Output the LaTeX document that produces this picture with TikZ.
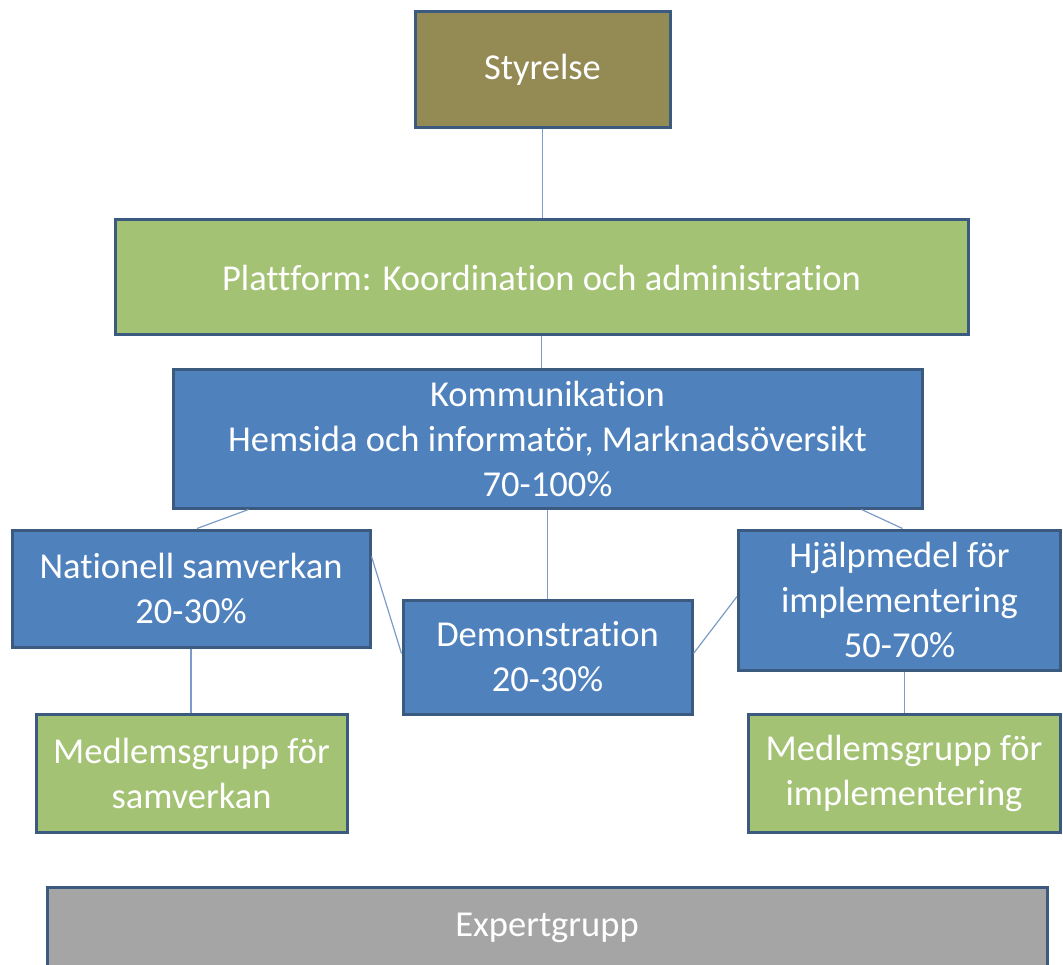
\documentclass[tikz,border=0pt]{standalone}
\usepackage{fontspec}
\setmainfont[Ligatures=NoCommon]{Carlito}
\definecolor{olive}{HTML}{948A54}
\definecolor{lgreen}{HTML}{A4C274}
\definecolor{mblue}{HTML}{4F81BD}
\definecolor{egrey}{HTML}{A5A5A5}
\definecolor{bord}{HTML}{3B5A80}
\definecolor{conn}{HTML}{7B9CC6}
\begin{document}
\begin{tikzpicture}[x=1pt,y=-1pt,
  box/.style={draw=bord, line width=3pt, text=white, align=center, inner sep=0pt,
    font=\fontsize{36.5}{45}\selectfont},
  link/.style={draw=conn, line width=1.2pt}]
\useasboundingbox (0,0) rectangle (1063,965);
\clip (0,0) rectangle (1063,965);
\node[box, fill=olive, minimum width=255pt, minimum height=116pt] (sty) at (542.5,70) {Styrelse};
\node[box, fill=lgreen, minimum width=853pt, minimum height=115pt] (plat) at (541.5,277.5) {Plattform: Koordination och administration};
\node[box, fill=mblue, minimum width=749pt, minimum height=138pt] (komm) at (547.5,439) {Kommunikation\\Hemsida och informatör, Marknadsöversikt\\70-100\%};
\node[box, fill=mblue, minimum width=358pt, minimum height=117pt] (nat) at (191,588.5) {Nationell samverkan\\20-30\%};
\node[box, fill=mblue, minimum width=289pt, minimum height=114pt] (demo) at (547.5,657) {Demonstration\\20-30\%};
\node[box, fill=mblue, minimum width=322pt, minimum height=140pt] (hjalp) at (899.5,600) {Hjälpmedel för\\implementering\\50-70\%};
\node[box, fill=lgreen, minimum width=311pt, minimum height=118pt] (msam) at (191.5,773) {Medlemsgrupp för\\samverkan};
\node[box, fill=lgreen, minimum width=312pt, minimum height=118pt] (mimp) at (904,773) {Medlemsgrupp för\\implementering};
\node[box, fill=egrey, minimum width=1000pt, minimum height=110pt] (exp) at (547,942) {};
\node[text=white, font=\fontsize{36.5}{45}\selectfont] (expt) at (547,928) {Expertgrupp};
\draw[link] (sty.south) -- (sty.south |- plat.north);
\draw[link] (plat.south) -- (plat.south |- komm.north);
\draw[link] ([xshift=77pt]komm.south west) -- ([xshift=6pt]nat.north);
\draw[link] (komm.south) -- (komm.south |- demo.north);
\draw[link] ([xshift=-62pt]komm.south east) -- ([xshift=3pt]hjalp.north);
\draw[link] ([yshift=-28pt]nat.north east) -- ([yshift=-55pt]demo.north west);
\draw[link] ([yshift=-55pt]demo.north east) -- ([yshift=-68pt]hjalp.north west);
\draw[link] (nat.south) -- (nat.south |- msam.north);
\draw[link] ([xshift=5pt]hjalp.south) -- ([xshift=5pt]hjalp.south |- mimp.north);
\end{tikzpicture}
\end{document}
